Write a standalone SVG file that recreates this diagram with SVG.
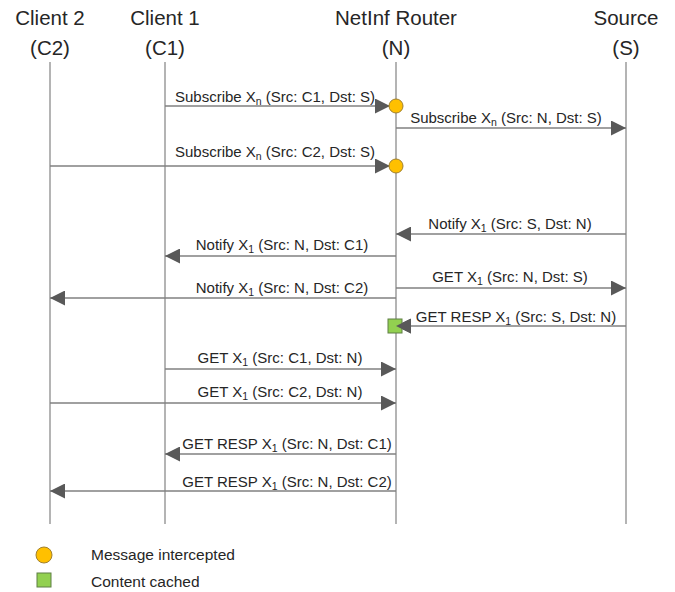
<svg xmlns="http://www.w3.org/2000/svg" width="675" height="592" viewBox="0 0 675 592">
<defs>
<marker id="ah" markerUnits="userSpaceOnUse" markerWidth="15" markerHeight="15" refX="15" refY="7.5" orient="auto">
<path d="M0,0 L15,7.5 L0,15 z" fill="#595959"/>
</marker>
<style>
.hdr{font-family:"Liberation Sans",Arial,sans-serif;font-size:20.5px;fill:#262626;text-anchor:middle}
.lbl{font-family:"Liberation Sans",Arial,sans-serif;font-size:15px;fill:#262626;text-anchor:middle}
.leg{font-family:"Liberation Sans",Arial,sans-serif;font-size:15.5px;fill:#262626}
.life{stroke:#8c8c8c;stroke-width:1.3;fill:none}
.msg{stroke:#808080;stroke-width:1.3;fill:none;marker-end:url(#ah)}
.sub{font-size:10.5px}
.circ{fill:#FFC000;stroke:#a08030;stroke-width:1}
.sq{fill:#92D050;stroke:#5f7f45;stroke-width:1}
</style>
</defs>
<rect width="675" height="592" fill="#ffffff"/>

<g id="C2"><text class="hdr" x="50" y="25">Client 2</text><text class="hdr" x="50" y="55">(C2)</text><line class="life" x1="50" y1="62" x2="50" y2="524"/></g>
<g id="C1"><text class="hdr" x="165" y="25">Client 1</text><text class="hdr" x="165" y="55">(C1)</text><line class="life" x1="165" y1="62" x2="165" y2="524"/></g>
<g id="N"><text class="hdr" x="396" y="25">NetInf Router</text><text class="hdr" x="396" y="55">(N)</text><line class="life" x1="396" y1="62" x2="396" y2="524"/></g>
<g id="S"><text class="hdr" x="626" y="25">Source</text><text class="hdr" x="626" y="55">(S)</text><line class="life" x1="626" y1="62" x2="626" y2="524"/></g>

<g id="connectors">
<line class="msg" x1="165" y1="106" x2="390" y2="106"/>
<line class="msg" x1="396" y1="128" x2="626" y2="128"/>
<line class="msg" x1="50" y1="166" x2="390" y2="166"/>
<line class="msg" x1="626" y1="234" x2="396" y2="234"/>
<line class="msg" x1="396" y1="256" x2="165" y2="256"/>
<line class="msg" x1="396" y1="288" x2="626" y2="288"/>
<line class="msg" x1="396" y1="298" x2="50" y2="298"/>
<line class="msg" x1="626" y1="326" x2="396" y2="326"/>
<line class="msg" x1="165" y1="369" x2="396" y2="369"/>
<line class="msg" x1="50" y1="403" x2="396" y2="403"/>
<line class="msg" x1="396" y1="454" x2="165" y2="454"/>
<line class="msg" x1="396" y1="491" x2="50" y2="491"/>
</g>

<g id="labels">
<text class="lbl" x="275" y="102">Subscribe X<tspan class="sub" dy="3">n</tspan><tspan dy="-3"> (Src: C1, Dst: S)</tspan></text>
<text class="lbl" x="506" y="123">Subscribe X<tspan class="sub" dy="3">n</tspan><tspan dy="-3"> (Src: N, Dst: S)</tspan></text>
<text class="lbl" x="275" y="157">Subscribe X<tspan class="sub" dy="3">n</tspan><tspan dy="-3"> (Src: C2, Dst: S)</tspan></text>
<text class="lbl" x="510" y="229">Notify X<tspan class="sub" dy="3">1</tspan><tspan dy="-3"> (Src: S, Dst: N)</tspan></text>
<text class="lbl" x="282" y="250">Notify X<tspan class="sub" dy="3">1</tspan><tspan dy="-3"> (Src: N, Dst: C1)</tspan></text>
<text class="lbl" x="510" y="282">GET X<tspan class="sub" dy="3">1</tspan><tspan dy="-3"> (Src: N, Dst: S)</tspan></text>
<text class="lbl" x="282" y="293">Notify X<tspan class="sub" dy="3">1</tspan><tspan dy="-3"> (Src: N, Dst: C2)</tspan></text>
<text class="lbl" x="516" y="322">GET RESP X<tspan class="sub" dy="3">1</tspan><tspan dy="-3"> (Src: S, Dst: N)</tspan></text>
<text class="lbl" x="280" y="363">GET X<tspan class="sub" dy="3">1</tspan><tspan dy="-3"> (Src: C1, Dst: N)</tspan></text>
<text class="lbl" x="280" y="397">GET X<tspan class="sub" dy="3">1</tspan><tspan dy="-3"> (Src: C2, Dst: N)</tspan></text>
<text class="lbl" x="287" y="449">GET RESP X<tspan class="sub" dy="3">1</tspan><tspan dy="-3"> (Src: N, Dst: C1)</tspan></text>
<text class="lbl" x="287" y="487">GET RESP X<tspan class="sub" dy="3">1</tspan><tspan dy="-3"> (Src: N, Dst: C2)</tspan></text>
</g>

<g id="intercept1"><circle class="circ" cx="396" cy="106" r="7"/></g>
<g id="intercept2"><circle class="circ" cx="396" cy="166" r="7"/></g>
<g id="cache"><rect class="sq" x="388" y="319" width="14" height="14"/></g>
<g id="arrowfix"><path d="M396,326 L411,318.5 L411,333.5 z" fill="#595959"/></g>

<g id="legend">
<circle class="circ" cx="44" cy="555" r="8"/>
<text class="leg" x="91" y="560">Message intercepted</text>
<rect class="sq" x="37" y="573" width="14" height="14"/>
<text class="leg" x="91" y="587">Content cached</text>
</g>
</svg>
